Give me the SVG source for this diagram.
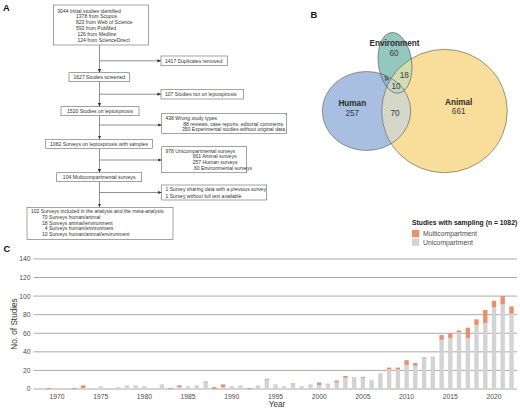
<svg xmlns="http://www.w3.org/2000/svg" width="520" height="408" viewBox="0 0 520 408">
<style>
text{font-family:"Liberation Sans",Arial,sans-serif;}
.ft{font-size:5.05px;fill:#333;}
.box{fill:#fff;stroke:#666;stroke-width:0.6;}
.ln{stroke:#444;stroke-width:0.6;fill:none;}
.pl{font-size:9.3px;font-weight:bold;fill:#111;}
.vb{font-size:8.2px;font-weight:bold;fill:#2b2b2b;text-anchor:middle;}
.vn{font-size:8.2px;fill:#3a3a3a;text-anchor:middle;}
.vo{stroke:#555;stroke-width:0.6;fill:none;}
.grid{stroke:#A0A0A0;stroke-width:0.9;}
.tk{font-size:6.8px;fill:#4d4d4d;}
.ax{font-size:8.2px;fill:#333;}
.m{fill:#E98F6E;}
.u{fill:#D3D3D3;}
</style>
<defs>
<marker id="ah" markerWidth="4" markerHeight="4" refX="3.6" refY="2" orient="auto" markerUnits="userSpaceOnUse">
<path d="M0,0.4 L3.6,2 L0,3.6 Z" fill="#333"/>
</marker>
<ellipse id="eH" cx="366.5" cy="111" rx="44.2" ry="39.5"/>
<ellipse id="eA" cx="444.5" cy="111" rx="62.8" ry="61.7"/>
<ellipse id="eE" cx="395" cy="62.8" rx="16.7" ry="30.5" transform="rotate(-7 395 62.8)"/>
<clipPath id="cH"><use href="#eH"/></clipPath>
<clipPath id="cA"><use href="#eA"/></clipPath>
<clipPath id="cE"><use href="#eE"/></clipPath>
</defs>
<rect width="520" height="408" fill="#fff"/>

<!-- Panel A -->
<text class="pl" x="3" y="10.5">A</text>
<g id="connectors-A">
<line class="ln" x1="99.5" y1="45" x2="99.5" y2="72.7" marker-end="url(#ah)"/>
<line class="ln" x1="99.5" y1="81.7" x2="99.5" y2="106.7" marker-end="url(#ah)"/>
<line class="ln" x1="99.5" y1="115.7" x2="99.5" y2="139.3" marker-end="url(#ah)"/>
<line class="ln" x1="99.5" y1="148.3" x2="99.5" y2="172.7" marker-end="url(#ah)"/>
<line class="ln" x1="99.5" y1="181.7" x2="99.5" y2="207.3" marker-end="url(#ah)"/>
<line class="ln" x1="99.5" y1="60.8" x2="161" y2="60.8" marker-end="url(#ah)"/>
<line class="ln" x1="99.5" y1="94.2" x2="161" y2="94.2" marker-end="url(#ah)"/>
<line class="ln" x1="99.5" y1="125" x2="161.7" y2="125" marker-end="url(#ah)"/>
<line class="ln" x1="99.5" y1="160" x2="161.7" y2="160" marker-end="url(#ah)"/>
<line class="ln" x1="99.5" y1="192.5" x2="161.7" y2="192.5" marker-end="url(#ah)"/>
</g>
<g id="n-identified">
<rect class="box" x="53.3" y="5" width="95" height="40"/>
<text class="ft" x="57.3" y="12.6">3044 Initial studies identified</text>
<text class="ft" x="76" y="18.3">1378 from Scopus</text>
<text class="ft" x="76" y="24.3">823 from Web of Science</text>
<text class="ft" x="76" y="30.4">593 from PubMed</text>
<text class="ft" x="77.4" y="36.3">126 from Medline</text>
<text class="ft" x="77.4" y="42.2">124 from ScienceDirect</text>
</g>
<g id="n-duplicates">
<rect class="box" x="161" y="56" width="66.3" height="9.7"/>
<text class="ft" x="165" y="62.6">1417 Duplicates removed</text>
</g>
<g id="n-screened">
<rect class="box" x="69" y="72.7" width="60.5" height="9"/>
<text class="ft" x="99.3" y="79" text-anchor="middle">1627 Studies screened</text>
</g>
<g id="n-notlepto">
<rect class="box" x="161" y="89.3" width="82.3" height="9.7"/>
<text class="ft" x="165" y="95.9">107 Studies not on leptospirosis</text>
</g>
<g id="n-lepto">
<rect class="box" x="61" y="106.7" width="78" height="9"/>
<text class="ft" x="100" y="113" text-anchor="middle">1520 Studies on leptospirosis</text>
</g>
<g id="n-wrong">
<rect class="box" x="161.7" y="113.3" width="125" height="20"/>
<text class="ft" x="165.5" y="119.5">438 Wrong study types</text>
<text class="ft" x="183.3" y="125.7">88 reviews, case reports, editorial comments</text>
<text class="ft" x="182" y="131.2">350 Experimental studies without original data</text>
</g>
<g id="n-samples">
<rect class="box" x="45.7" y="139.3" width="106.6" height="9"/>
<text class="ft" x="99" y="145.6" text-anchor="middle">1082 Surveys on leptospirosis with samples</text>
</g>
<g id="n-unicomp">
<rect class="box" x="161.7" y="146.7" width="85" height="26"/>
<text class="ft" x="165.5" y="152.5">978 Unicompartmental surveys</text>
<text class="ft" x="192.7" y="157.9">661 Animal surveys</text>
<text class="ft" x="192.7" y="164.1">257 Human surveys</text>
<text class="ft" x="193.9" y="169.5">60 Environmental surveys</text>
</g>
<g id="n-multicomp">
<rect class="box" x="56.7" y="172.7" width="85" height="9"/>
<text class="ft" x="99.2" y="179" text-anchor="middle">104 Multicompartmental surveys</text>
</g>
<g id="n-excluded">
<rect class="box" x="161.7" y="185" width="105" height="15"/>
<text class="ft" x="165.5" y="191.1">1 Survey sharing data with a previous survey</text>
<text class="ft" x="165.5" y="197.8">1 Survey without full text available</text>
</g>
<g id="n-included">
<rect class="box" x="27" y="207.3" width="146" height="32"/>
<text class="ft" x="31" y="213.2">102 Surveys included in the analysis and the meta-analysis</text>
<text class="ft" x="42" y="218.9">70 Surveys human/animal</text>
<text class="ft" x="42" y="224.7">18 Surveys animal/environment</text>
<text class="ft" x="44.8" y="230.4">4 Surveys human/environment</text>
<text class="ft" x="42" y="236.3">10 Surveys human/animal/environment</text>
</g>

<!-- Panel B -->
<text class="pl" x="310.5" y="18.3">B</text>
<g id="venn">
<use href="#eH" fill="#A9BFE1"/>
<use href="#eA" fill="#F9DD9B"/>
<use href="#eE" fill="#94C7BE"/>
<g clip-path="url(#cH)"><use href="#eA" fill="#D6D7C8"/></g>
<g clip-path="url(#cA)"><use href="#eE" fill="#D2DCAE"/></g>
<g clip-path="url(#cH)"><use href="#eE" fill="#8FB8CA"/></g>
<g clip-path="url(#cH)"><g clip-path="url(#cA)"><use href="#eE" fill="#C6D4C3"/></g></g>
<use href="#eH" class="vo"/>
<use href="#eA" class="vo"/>
<use href="#eE" class="vo"/>
</g>
<g id="v-env"><text class="vb" x="394.5" y="46">Environment</text><text class="vn" x="394" y="56.4">60</text></g>
<g id="v-ea"><text class="vn" x="404.3" y="78">18</text></g>
<g id="v-he"><text class="vn" x="386.6" y="81" font-size="6" transform="rotate(-40 386.6 79)">4</text></g>
<g id="v-hea"><text class="vn" x="396" y="89">10</text></g>
<g id="v-human"><text class="vb" x="352.3" y="105.7">Human</text><text class="vn" x="352.3" y="115.8">257</text></g>
<g id="v-ha"><text class="vn" x="395" y="116.3">70</text></g>
<g id="v-animal"><text class="vb" x="458.7" y="104.7">Animal</text><text class="vn" x="458.7" y="114.2">661</text></g>

<!-- Panel C -->
<text class="pl" x="3.5" y="251.7">C</text>
<g id="legend">
<text x="412" y="225" style="font-size:6.8px;font-weight:bold;fill:#222">Studies with sampling (n = 1082)</text>
<rect class="m" x="412" y="230" width="7.3" height="7.3"/>
<rect class="u" x="412" y="238.5" width="7.3" height="7.3"/>
<text class="tk" x="423" y="236.3">Multicompartment</text>
<text class="tk" x="423" y="244.8">Unicompartment</text>
</g>
<g id="grid">
<line class="grid" x1="33.5" y1="389" x2="517" y2="389"/>
<line class="grid" x1="33.5" y1="370.42" x2="517" y2="370.42"/>
<line class="grid" x1="33.5" y1="351.84" x2="517" y2="351.84"/>
<line class="grid" x1="33.5" y1="333.26" x2="517" y2="333.26"/>
<line class="grid" x1="33.5" y1="314.68" x2="517" y2="314.68"/>
<line class="grid" x1="33.5" y1="296.1" x2="517" y2="296.1"/>
<line class="grid" x1="33.5" y1="277.52" x2="517" y2="277.52"/>
<line class="grid" x1="33.5" y1="258.94" x2="517" y2="258.94"/>
</g>
<g id="yticks" text-anchor="end">
<text class="tk" x="30.5" y="391.4">0</text>
<text class="tk" x="30.5" y="372.8">20</text>
<text class="tk" x="30.5" y="354.2">40</text>
<text class="tk" x="30.5" y="335.6">60</text>
<text class="tk" x="30.5" y="317.1">80</text>
<text class="tk" x="30.5" y="298.5">100</text>
<text class="tk" x="30.5" y="279.9">120</text>
<text class="tk" x="30.5" y="261.3">140</text>
</g>
<g id="xticks" text-anchor="middle">
<text class="tk" x="57" y="398.6">1970</text>
<text class="tk" x="100.7" y="398.6">1975</text>
<text class="tk" x="144.4" y="398.6">1980</text>
<text class="tk" x="188.1" y="398.6">1985</text>
<text class="tk" x="231.8" y="398.6">1990</text>
<text class="tk" x="275.5" y="398.6">1995</text>
<text class="tk" x="319.2" y="398.6">2000</text>
<text class="tk" x="362.9" y="398.6">2005</text>
<text class="tk" x="406.6" y="398.6">2010</text>
<text class="tk" x="450.3" y="398.6">2015</text>
<text class="tk" x="494" y="398.6">2020</text>
</g>
<text class="ax" x="277" y="406.5" text-anchor="middle">Year</text>
<text class="ax" x="16.5" y="324" text-anchor="middle" transform="rotate(-90 16.5 324)">No. of Studies</text>
<g id="bars">
<rect class="u" x="37.3" y="388.07" width="4.4" height="0.93"/>
<rect class="m" x="46.1" y="388.07" width="4.4" height="0.93"/>
<rect class="u" x="63.5" y="388.07" width="4.4" height="0.93"/>
<rect class="m" x="72.3" y="388.07" width="4.4" height="0.93"/>
<rect class="u" x="81" y="388.07" width="4.4" height="0.93"/><rect class="m" x="81" y="385.28" width="4.4" height="2.79"/>
<rect class="u" x="89.8" y="388.07" width="4.4" height="0.93"/>
<rect class="u" x="98.5" y="386.21" width="4.4" height="2.79"/>
<rect class="u" x="107.2" y="388.07" width="4.4" height="0.93"/>
<rect class="u" x="116" y="387.14" width="4.4" height="1.86"/>
<rect class="u" x="124.7" y="385.28" width="4.4" height="3.72"/>
<rect class="u" x="133.5" y="385.28" width="4.4" height="3.72"/>
<rect class="u" x="142.2" y="386.21" width="4.4" height="2.79"/>
<rect class="u" x="150.9" y="388.07" width="4.4" height="0.93"/>
<rect class="u" x="159.7" y="384.36" width="4.4" height="4.64"/>
<rect class="m" x="168.4" y="388.07" width="4.4" height="0.93"/>
<rect class="u" x="177.2" y="387.14" width="4.4" height="1.86"/><rect class="m" x="177.2" y="385.28" width="4.4" height="1.86"/>
<rect class="u" x="185.9" y="386.21" width="4.4" height="2.79"/>
<rect class="u" x="194.6" y="385.28" width="4.4" height="3.72"/>
<rect class="u" x="203.4" y="382.5" width="4.4" height="6.5"/><rect class="m" x="203.4" y="381.57" width="4.4" height="0.93"/>
<rect class="m" x="212.1" y="387.14" width="4.4" height="1.86"/>
<rect class="u" x="220.9" y="387.14" width="4.4" height="1.86"/><rect class="m" x="220.9" y="384.36" width="4.4" height="2.79"/>
<rect class="u" x="229.6" y="386.21" width="4.4" height="2.79"/>
<rect class="u" x="238.3" y="385.28" width="4.4" height="3.72"/>
<rect class="m" x="247.1" y="388.07" width="4.4" height="0.93"/>
<rect class="u" x="255.8" y="385.28" width="4.4" height="3.72"/>
<rect class="u" x="264.6" y="379.71" width="4.4" height="9.29"/><rect class="m" x="264.6" y="378.78" width="4.4" height="0.93"/>
<rect class="u" x="273.3" y="384.36" width="4.4" height="4.64"/>
<rect class="u" x="282" y="386.21" width="4.4" height="2.79"/>
<rect class="u" x="290.8" y="384.36" width="4.4" height="4.64"/><rect class="m" x="290.8" y="383.43" width="4.4" height="0.93"/>
<rect class="u" x="299.5" y="386.21" width="4.4" height="2.79"/>
<rect class="u" x="308.3" y="384.36" width="4.4" height="4.64"/>
<rect class="u" x="317" y="385.28" width="4.4" height="3.72"/><rect class="m" x="317" y="382.5" width="4.4" height="2.79"/>
<rect class="u" x="325.7" y="383.43" width="4.4" height="5.57"/>
<rect class="u" x="334.5" y="382.5" width="4.4" height="6.5"/><rect class="m" x="334.5" y="380.64" width="4.4" height="1.86"/>
<rect class="u" x="343.2" y="377.85" width="4.4" height="11.15"/><rect class="m" x="343.2" y="375.99" width="4.4" height="1.86"/>
<rect class="u" x="352" y="376.92" width="4.4" height="12.08"/>
<rect class="u" x="360.7" y="377.85" width="4.4" height="11.15"/><rect class="m" x="360.7" y="376.92" width="4.4" height="0.93"/>
<rect class="u" x="369.4" y="379.71" width="4.4" height="9.29"/>
<rect class="u" x="378.2" y="373.21" width="4.4" height="15.79"/>
<rect class="u" x="386.9" y="369.49" width="4.4" height="19.51"/><rect class="m" x="386.9" y="367.63" width="4.4" height="1.86"/>
<rect class="u" x="395.7" y="369.49" width="4.4" height="19.51"/><rect class="m" x="395.7" y="367.63" width="4.4" height="1.86"/>
<rect class="u" x="404.4" y="364.85" width="4.4" height="24.15"/><rect class="m" x="404.4" y="360.2" width="4.4" height="4.65"/>
<rect class="u" x="413.1" y="365.78" width="4.4" height="23.22"/><rect class="m" x="413.1" y="362.99" width="4.4" height="2.79"/>
<rect class="u" x="421.9" y="358.34" width="4.4" height="30.66"/><rect class="m" x="421.9" y="357.41" width="4.4" height="0.93"/>
<rect class="u" x="430.6" y="356.49" width="4.4" height="32.51"/>
<rect class="u" x="439.4" y="339.76" width="4.4" height="49.24"/><rect class="m" x="439.4" y="335.11" width="4.4" height="4.65"/>
<rect class="u" x="448.1" y="337.9" width="4.4" height="51.1"/><rect class="m" x="448.1" y="333.25" width="4.4" height="4.65"/>
<rect class="u" x="456.8" y="332.33" width="4.4" height="56.67"/><rect class="m" x="456.8" y="330.47" width="4.4" height="1.86"/>
<rect class="u" x="465.6" y="337.9" width="4.4" height="51.1"/><rect class="m" x="465.6" y="327.68" width="4.4" height="10.22"/>
<rect class="u" x="474.3" y="324.9" width="4.4" height="64.1"/><rect class="m" x="474.3" y="319.33" width="4.4" height="5.57"/>
<rect class="u" x="483.1" y="323.04" width="4.4" height="65.96"/><rect class="m" x="483.1" y="310.03" width="4.4" height="13.01"/>
<rect class="u" x="491.8" y="307.25" width="4.4" height="81.75"/><rect class="m" x="491.8" y="300.75" width="4.4" height="6.5"/>
<rect class="u" x="500.5" y="304.46" width="4.4" height="84.54"/><rect class="m" x="500.5" y="296.1" width="4.4" height="8.36"/>
<rect class="u" x="509.3" y="313.75" width="4.4" height="75.25"/><rect class="m" x="509.3" y="306.32" width="4.4" height="7.43"/>
</g>
</svg>
